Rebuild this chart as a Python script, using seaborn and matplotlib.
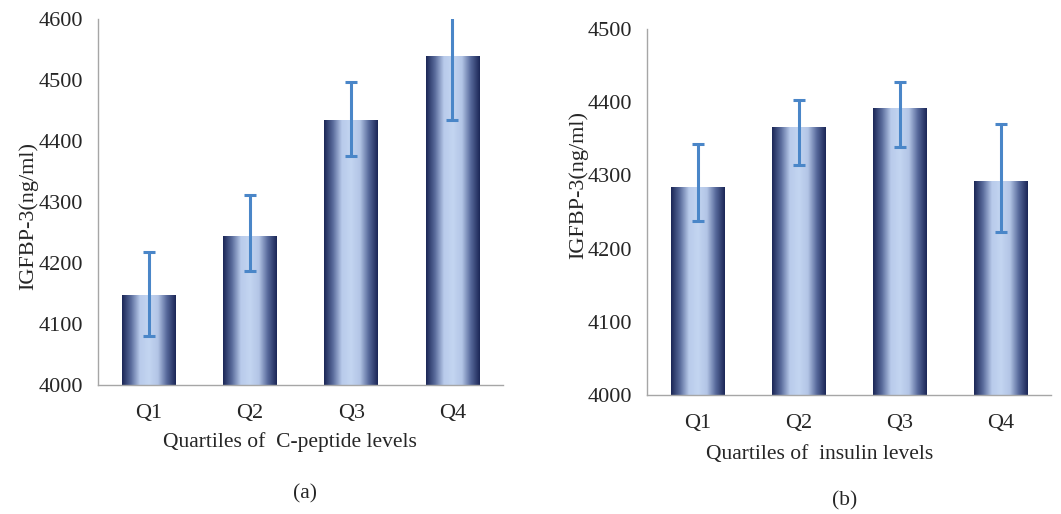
import numpy as np
import pandas as pd
import matplotlib.pyplot as plt
import seaborn as sns
from matplotlib.colors import LinearSegmentedColormap

quartiles = ["Q1", "Q2", "Q3", "Q4"]

# panel (a): C-peptide
cpep_mean = [4146, 4243, 4433, 4539]
cpep_upper = [4218, 4311, 4497, 4611]
cpep_lower = [4080, 4187, 4376, 4434]

# panel (b): insulin
ins_mean = [4283, 4365, 4392, 4292]
ins_upper = [4343, 4403, 4428, 4370]
ins_lower = [4238, 4314, 4339, 4223]

sns.set_theme(style="white")
plt.rcParams['font.family'] = ['Liberation Serif', 'DejaVu Serif']

grad_cmap = LinearSegmentedColormap.from_list(
    "bar", ["#1b2656", "#5a6c9c", "#b9cbeb", "#c3d5f1", "#b3c5e6", "#56689a", "#1b2656"])
TXT = "#262626"


def gradient_bars(ax, base):
    # replace the flat bar fill with a horizontal gradient, Excel style
    grad = np.linspace(0, 1, 256).reshape(1, -1)
    for bar in ax.patches:
        x0 = bar.get_x()
        w, top = bar.get_width(), bar.get_y() + bar.get_height()
        bar.set_facecolor("none")
        bar.set_edgecolor("none")
        ax.imshow(grad, cmap=grad_cmap, aspect="auto",
                  extent=[x0, x0 + w, base, top], zorder=2)


def draw_panel(ax, means, upper, lower, ymax, xlabel, ylab_xy, xlab_xy):
    df = pd.DataFrame({"q": quartiles, "v": means})
    sns.barplot(data=df, x="q", y="v", ax=ax, width=0.53, color="#8899cc")
    gradient_bars(ax, 4000)
    m = np.array(means)
    yerr = [m - np.array(lower), np.array(upper) - m]
    ax.errorbar(np.arange(len(quartiles)), m, yerr=yerr, fmt="none",
                ecolor="#4a86c8", elinewidth=2.2, capsize=4.5, capthick=2.2, zorder=3)
    ax.set_xlim(-0.5, 3.5)
    ax.set_ylim(4000, ymax)
    ax.set_yticks(np.arange(4000, ymax + 1, 100))
    ax.tick_params(axis="both", length=0, labelsize=16, colors=TXT)
    ax.tick_params(axis="x", pad=14)
    ax.tick_params(axis="y", pad=11)
    for s in ["top", "right"]:
        ax.spines[s].set_visible(False)
    for s in ["left", "bottom"]:
        ax.spines[s].set_color("#a6a6a6")
        ax.spines[s].set_linewidth(1.0)
        ax.spines[s].set_zorder(4)
    ax.set_xlabel(xlabel, fontsize=15.5, color=TXT)
    ax.set_ylabel("IGFBP-3(ng/ml)", fontsize=16, color=TXT)
    ax.yaxis.set_label_coords(*ylab_xy)
    ax.xaxis.set_label_coords(*xlab_xy)


fig = plt.figure(figsize=(10.61, 5.14), dpi=100)
ax1 = fig.add_axes([0.0924, 0.251, 0.3817, 0.712])
ax2 = fig.add_axes([0.6098, 0.2315, 0.381, 0.712])

draw_panel(ax1, cpep_mean, cpep_upper, cpep_lower, 4600,
           "Quartiles of  C-peptide levels", (-0.148, 0.462), (0.474, -0.128))
draw_panel(ax2, ins_mean, ins_upper, ins_lower, 4500,
           "Quartiles of  insulin levels", (-0.146, 0.574), (0.428, -0.136))

fig.text(305 / 1061, 1 - 494 / 514, "(a)", ha="center", va="center", fontsize=15.5, color=TXT)
fig.text(845 / 1061, 1 - 501 / 514, "(b)", ha="center", va="center", fontsize=15.5, color=TXT)

fig.savefig("out.png", dpi=100)
